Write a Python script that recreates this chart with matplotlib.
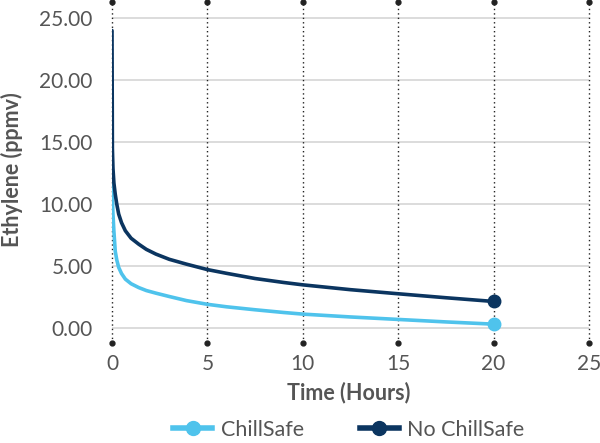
import matplotlib.pyplot as plt
from matplotlib.lines import Line2D

plt.rcParams['font.family'] = ['Lato', 'DejaVu Sans']

# data
time_h = [0, 0.02, 0.05, 0.1, 0.17, 0.25, 0.35, 0.5, 0.7, 1.0, 1.4, 1.8,
          2.3, 3.0, 3.9, 5, 6, 7.5, 9, 10, 12.5, 15, 17.5, 20]
no_chillsafe = [24.0, 14.5, 12.9, 11.7, 10.8, 10.0, 9.2, 8.5, 7.85, 7.25,
                6.77, 6.35, 5.97, 5.55, 5.16, 4.72, 4.42, 4.0, 3.68, 3.49,
                3.1, 2.77, 2.45, 2.15]
chillsafe = [11.9, 10.6, 9.2, 7.8, 6.2, 5.5, 4.9, 4.4, 3.95, 3.58, 3.27,
             3.03, 2.82, 2.55, 2.22, 1.92, 1.72, 1.48, 1.26, 1.13, 0.9, 0.7,
             0.5, 0.32]
x_ticks = [0, 5, 10, 15, 20, 25]
y_ticks = [0, 5, 10, 15, 20, 25]

dark = '#0b3560'
light = '#4fc3ec'
grey = '#555555'

fig = plt.figure(figsize=(6, 4.43), dpi=100)
ax = fig.add_axes([112 / 600, 1 - 343 / 443, 477 / 600, 341 / 443])
ax.set_xlim(0, 25)
ax.set_ylim(-1.2, 26.3)

# horizontal grid (solid light grey)
for y in y_ticks:
    ax.axhline(y, color='#d9d9d9', lw=1.3, zorder=1)

# vertical dotted lines with end dots
for x in x_ticks:
    ax.plot([x, x], [-1.2, 26.3], color='#222222', lw=1, ls=(0, (1, 2.2)),
            clip_on=False, zorder=1)
    ax.plot([x, x], [-1.2, 26.3], 'o', color='#222222', ms=3.5,
            clip_on=False, zorder=2)

ax.plot(time_h, chillsafe, color=light, lw=2.6, solid_capstyle='round',
        solid_joinstyle='round', zorder=3)
ax.plot(time_h[-1], chillsafe[-1], 'o', color=light, ms=9, zorder=4)
ax.plot(time_h, no_chillsafe, color=dark, lw=2.6, solid_capstyle='round',
        solid_joinstyle='round', zorder=3)
ax.plot(time_h[-1], no_chillsafe[-1], 'o', color=dark, ms=9, zorder=4)

for s in ax.spines.values():
    s.set_visible(False)
ax.tick_params(length=0)
ax.set_xticks(x_ticks)
ax.set_xticklabels([str(v) for v in x_ticks], color=grey, fontsize=15)
ax.set_yticks(y_ticks)
ax.set_yticklabels([f'{v:.2f}' for v in y_ticks], color=grey, fontsize=15)
ax.tick_params(axis='x', pad=8)
ax.tick_params(axis='y', pad=14)

fig.text(349 / 600, 1 - 393 / 443, 'Time (Hours)', fontsize=15.5,
         fontweight='bold', color=grey, ha='center', va='center')
fig.text(12 / 600, 1 - 170 / 443, 'Ethylene (ppmv)', rotation=90, fontsize=15.5,
         fontweight='bold', color=grey, ha='center', va='center')

handles = [
    Line2D([], [], color=light, lw=4, marker='o', ms=10),
    Line2D([], [], color=dark, lw=4, marker='o', ms=10),
]
fig.legend(handles, ['ChillSafe', 'No ChillSafe'], loc='center',
           bbox_to_anchor=(349 / 600, 1 - 430 / 443), ncol=2, frameon=False,
           fontsize=15.5, labelcolor=grey, handlelength=1.8, columnspacing=2.6,
           handletextpad=0.4)

fig.savefig('out.png', dpi=100)
